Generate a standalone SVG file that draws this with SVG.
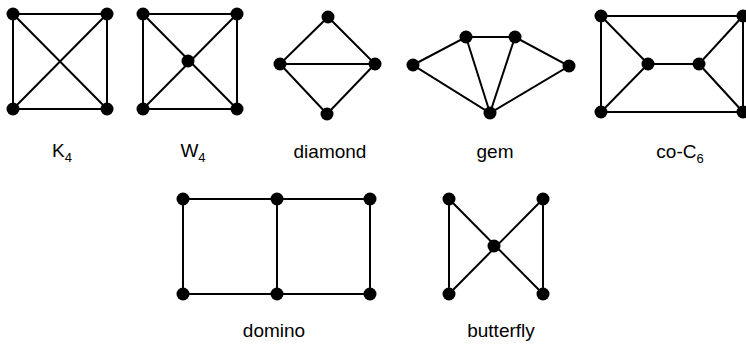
<svg xmlns="http://www.w3.org/2000/svg" width="746" height="345" viewBox="0 0 746 345">
<style>
.e{stroke:#000;stroke-width:2;fill:none}
.n{fill:#000}
.t{font-family:"Liberation Sans",Arial,sans-serif;font-size:19px;fill:#000;text-anchor:middle}
.s{font-size:13px}
</style>
<rect width="746" height="345" fill="#fff"/>
<g id="connectors">
<!-- K4 -->
<path class="e" d="M13,14H107V109H13Z M13,14L107,109 M107,14L13,109"/>
<!-- W4 -->
<path class="e" d="M143,14H237V109H143Z M143,14L237,109 M237,14L143,109"/>
<!-- diamond -->
<path class="e" d="M328,17L375,64L327,114L280,64Z M280,64H375"/>
<!-- gem -->
<path class="e" d="M413,65L466,37H515L569,66L490,113Z M466,37L490,113 M515,37L490,113"/>
<!-- co-C6 -->
<path class="e" d="M601,16H743V112H601Z M601,16L648,64H699L743,16 M601,112L648,64 M699,64L743,112"/>
<!-- domino -->
<path class="e" d="M183,199H370V294H183Z M277,199V294"/>
<!-- butterfly -->
<path class="e" d="M449,199V294L543,199V294Z"/>
</g>
<g id="K4">
<circle class="n" cx="13" cy="14" r="6.5"/><circle class="n" cx="107" cy="14" r="6.5"/><circle class="n" cx="13" cy="109" r="6.5"/><circle class="n" cx="107" cy="109" r="6.5"/>
<text class="t" x="62" y="157">K<tspan class="s" dy="5">4</tspan></text>
</g>
<g id="W4">
<circle class="n" cx="143" cy="14" r="6.5"/><circle class="n" cx="237" cy="14" r="6.5"/><circle class="n" cx="143" cy="109" r="6.5"/><circle class="n" cx="237" cy="109" r="6.5"/><circle class="n" cx="188" cy="61" r="6.5"/>
<text class="t" x="193" y="157">W<tspan class="s" dy="5">4</tspan></text>
</g>
<g id="diamond">
<circle class="n" cx="328" cy="17" r="6.5"/><circle class="n" cx="280" cy="64" r="6.5"/><circle class="n" cx="375" cy="64" r="6.5"/><circle class="n" cx="327" cy="114" r="6.5"/>
<text class="t" x="330" y="158">diamond</text>
</g>
<g id="gem">
<circle class="n" cx="413" cy="65" r="6.5"/><circle class="n" cx="466" cy="37" r="6.5"/><circle class="n" cx="515" cy="37" r="6.5"/><circle class="n" cx="569" cy="66" r="6.5"/><circle class="n" cx="490" cy="113" r="6.5"/>
<text class="t" x="495" y="158">gem</text>
</g>
<g id="coC6">
<circle class="n" cx="601" cy="16" r="6.5"/><circle class="n" cx="743" cy="16" r="6.5"/><circle class="n" cx="601" cy="112" r="6.5"/><circle class="n" cx="743" cy="112" r="6.5"/><circle class="n" cx="648" cy="64" r="6.5"/><circle class="n" cx="699" cy="64" r="6.5"/>
<text class="t" x="680" y="158">co-C<tspan class="s" dy="5">6</tspan></text>
</g>
<g id="domino">
<circle class="n" cx="183" cy="199" r="6.5"/><circle class="n" cx="277" cy="199" r="6.5"/><circle class="n" cx="370" cy="199" r="6.5"/><circle class="n" cx="183" cy="294" r="6.5"/><circle class="n" cx="277" cy="294" r="6.5"/><circle class="n" cx="370" cy="294" r="6.5"/>
<text class="t" x="274" y="337">domino</text>
</g>
<g id="butterfly">
<circle class="n" cx="449" cy="199" r="6.5"/><circle class="n" cx="543" cy="199" r="6.5"/><circle class="n" cx="494" cy="246" r="6.5"/><circle class="n" cx="449" cy="294" r="6.5"/><circle class="n" cx="543" cy="294" r="6.5"/>
<text class="t" x="501" y="337">butterfly</text>
</g>
</svg>
